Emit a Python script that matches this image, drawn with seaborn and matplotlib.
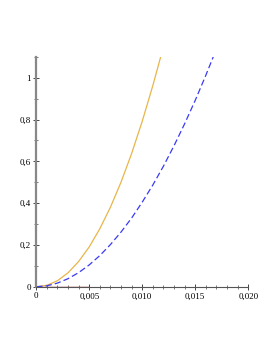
import matplotlib
matplotlib.use("Agg")
import matplotlib.pyplot as plt
import seaborn as sns
import pandas as pd
from matplotlib.ticker import MultipleLocator, FixedLocator, FixedFormatter

# Data
x_orange = [0.0, 0.001, 0.002, 0.003, 0.004, 0.005, 0.006, 0.007, 0.008, 0.009, 0.010, 0.011, 0.01174]
y_orange = [0.0, 0.007, 0.029, 0.067, 0.121, 0.191, 0.278, 0.381, 0.501, 0.638, 0.792, 0.963, 1.1]

x_blue = [0.0, 0.001, 0.002, 0.003, 0.004, 0.005, 0.006, 0.007, 0.008, 0.009, 0.010,
          0.011, 0.012, 0.013, 0.014, 0.015, 0.016, 0.0167]
y_blue = [0.0, 0.0045, 0.0175, 0.0387, 0.0678, 0.1047, 0.1495, 0.202, 0.262, 0.329, 0.405,
          0.487, 0.577, 0.675, 0.780, 0.892, 1.012, 1.1]

x_red = [0.0, 0.005]
y_red = [0.0, 0.0]

x_ticks = [0.0, 0.005, 0.010, 0.015, 0.020]
x_ticklabels = ["0", "0,005", "0,010", "0,015", "0,020"]
y_ticks = [0.0, 0.2, 0.4, 0.6, 0.8, 1.0]
y_ticklabels = ["0", "0,2", "0,4", "0,6", "0,8", "1"]

sns.set_style("white")
plt.rcParams['font.family'] = ['Liberation Serif', 'DejaVu Serif']

fig = plt.figure(figsize=(2.77, 3.58), dpi=100)
ax = fig.add_axes([0.131, 0.199, 0.765, 0.642])

sns.lineplot(x=x_red, y=y_red, ax=ax, color="#8B1010", linewidth=1.0)
sns.lineplot(x=x_orange, y=y_orange, ax=ax, color="#E8B54A", linewidth=0.9)
sns.lineplot(x=x_blue, y=y_blue, ax=ax, color="#3A3AF5", linewidth=0.9, linestyle=(0, (5, 2.5)))

ax.set_xlim(0, 0.020)
ax.set_ylim(0, 1.1)
ax.xaxis.set_major_locator(FixedLocator(x_ticks))
ax.xaxis.set_major_formatter(FixedFormatter(x_ticklabels))
ax.yaxis.set_major_locator(FixedLocator(y_ticks))
ax.yaxis.set_major_formatter(FixedFormatter(y_ticklabels))
ax.xaxis.set_minor_locator(MultipleLocator(0.001))
ax.yaxis.set_minor_locator(MultipleLocator(0.1))

for s in ["top", "right"]:
    ax.spines[s].set_visible(False)
ax.spines["left"].set_color("#888888")
ax.spines["left"].set_linewidth(1.6)
ax.spines["bottom"].set_color("#555555")
ax.spines["bottom"].set_linewidth(0.8)

ax.tick_params(axis="both", which="major", direction="inout", length=4, width=0.7,
               colors="#444444", labelsize=6.5, labelcolor="black", pad=2, bottom=True, left=True)
ax.tick_params(axis="both", which="minor", direction="inout", length=2.5, width=0.6,
               colors="#666666", bottom=True, left=True)

ax.set_xlabel("")
ax.set_ylabel("")
fig.savefig("out.png", dpi=100)
